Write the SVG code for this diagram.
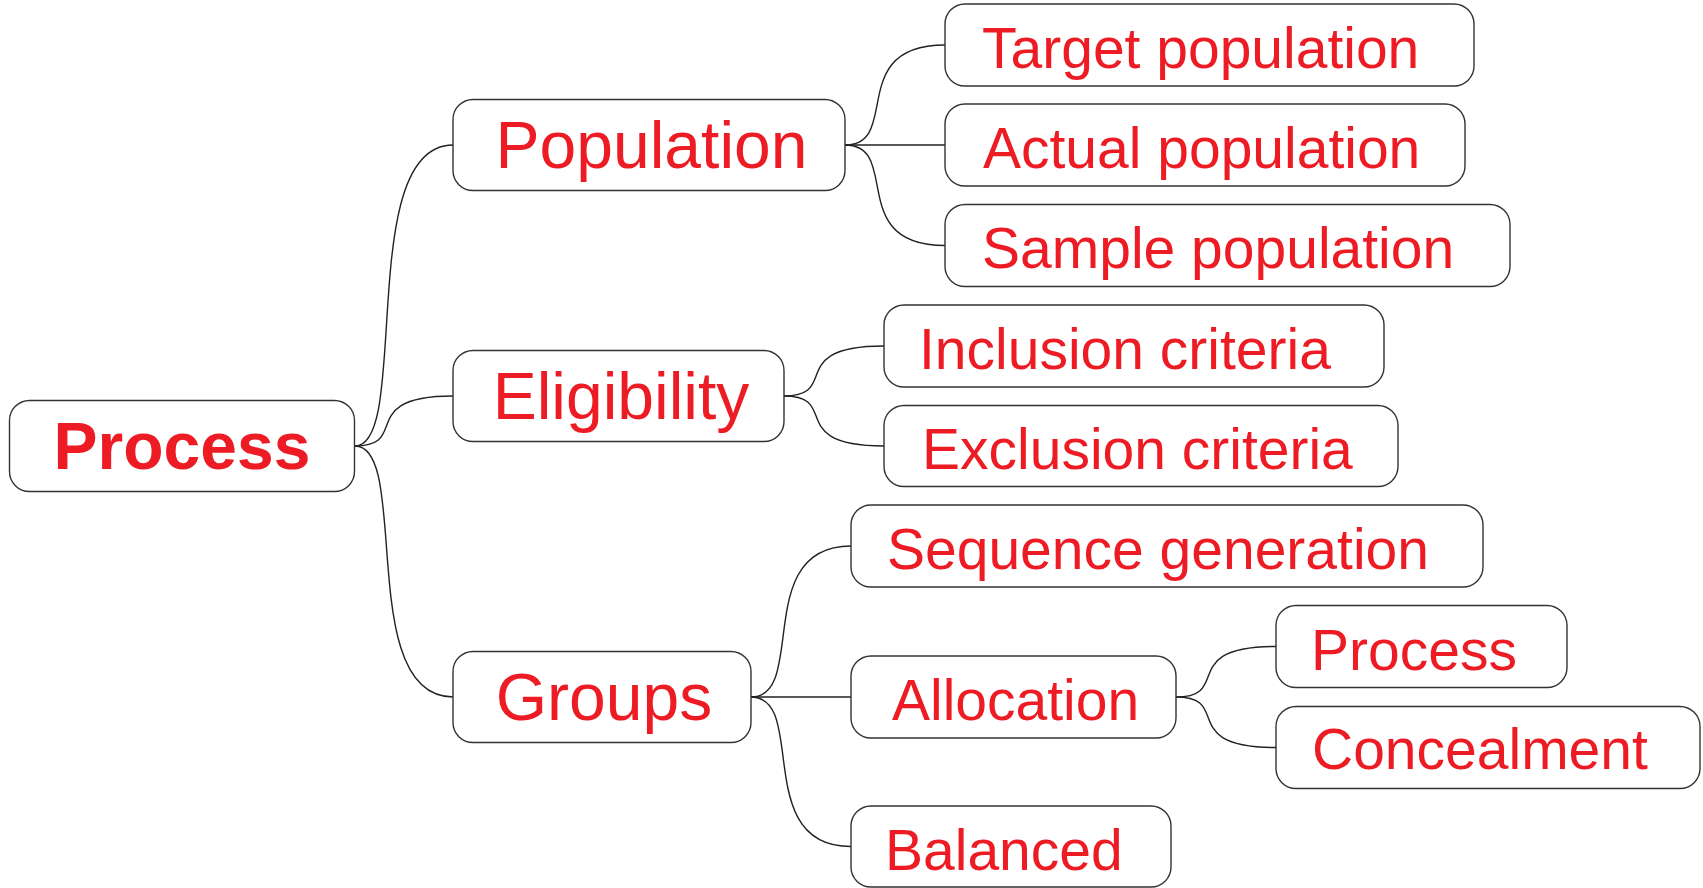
<svg xmlns="http://www.w3.org/2000/svg" width="1703" height="888" viewBox="0 0 1703 888">
<style>
.box{fill:#fff;stroke:#333;stroke-width:1.4}
.t{fill:#ED1C24;font-family:"Liberation Sans",Arial,sans-serif}
.l1{font-size:66px;font-weight:bold;text-anchor:middle}
.l2{font-size:66px;text-anchor:middle}
.l3{font-size:57px}
.c{fill:none;stroke:#222;stroke-width:1.4}
</style>
<rect width="1703" height="888" fill="#fff"/>
<g id="connectors">
<path class="c" d="M355 446 C410.9 446,355.4 145,453 145"/>
<path class="c" d="M355 446 C410.9 446,355.4 396,453 396"/>
<path class="c" d="M355 446 C410.9 446,355.4 697,453 697"/>
<path class="c" d="M845 145 C902 145,845.4 45,945 45"/>
<path class="c" d="M845 145 L945 145"/>
<path class="c" d="M845 145 C902 145,845.4 245.5,945 245.5"/>
<path class="c" d="M784 396 C841 396,784.4 346,884 346"/>
<path class="c" d="M784 396 C841 396,784.4 446,884 446"/>
<path class="c" d="M751 697 C808 697,751.4 546,851 546"/>
<path class="c" d="M751 697 L851 697"/>
<path class="c" d="M751 697 C808 697,751.4 846.5,851 846.5"/>
<path class="c" d="M1176 697 C1233 697,1176.4 646.5,1276 646.5"/>
<path class="c" d="M1176 697 C1233 697,1176.4 747.5,1276 747.5"/>
</g>
<g id="root">
<rect class="box" x="9.5" y="400.5" width="345" height="91" rx="20"/>
<text class="t l1" x="182" y="469">Process</text>
</g>
<g id="population">
<rect class="box" x="453" y="99.5" width="392" height="91" rx="20"/>
<text class="t l2" x="651.5" y="168">Population</text>
</g>
<g id="eligibility">
<rect class="box" x="453" y="350.5" width="331" height="91" rx="20"/>
<text class="t l2" x="621" y="419">Eligibility</text>
</g>
<g id="groups">
<rect class="box" x="453" y="651.5" width="298" height="91" rx="20"/>
<text class="t l2" x="604" y="719.5">Groups</text>
</g>
<g id="target">
<rect class="box" x="945" y="4" width="529" height="82" rx="20"/>
<text class="t l3" x="982" y="68">Target population</text>
</g>
<g id="actual">
<rect class="box" x="945" y="104" width="520" height="82" rx="20"/>
<text class="t l3" x="983" y="168">Actual population</text>
</g>
<g id="sample">
<rect class="box" x="945" y="204.5" width="565" height="82" rx="20"/>
<text class="t l3" x="982" y="268">Sample population</text>
</g>
<g id="inclusion">
<rect class="box" x="884" y="305" width="500" height="82" rx="20"/>
<text class="t l3" x="919" y="369">Inclusion criteria</text>
</g>
<g id="exclusion">
<rect class="box" x="884" y="405.5" width="514" height="81" rx="20"/>
<text class="t l3" x="922" y="468.5">Exclusion criteria</text>
</g>
<g id="sequence">
<rect class="box" x="851" y="505" width="632" height="82" rx="20"/>
<text class="t l3" x="887" y="569">Sequence generation</text>
</g>
<g id="allocation">
<rect class="box" x="851" y="656" width="325" height="82" rx="20"/>
<text class="t l3" x="892" y="719.5">Allocation</text>
</g>
<g id="balanced">
<rect class="box" x="851" y="806" width="320" height="81" rx="20"/>
<text class="t l3" x="885" y="870">Balanced</text>
</g>
<g id="process2">
<rect class="box" x="1276" y="605.5" width="291" height="82" rx="20"/>
<text class="t l3" x="1311" y="670">Process</text>
</g>
<g id="concealment">
<rect class="box" x="1276" y="706.5" width="424" height="82" rx="20"/>
<text class="t l3" x="1312" y="769">Concealment</text>
</g>
</svg>
